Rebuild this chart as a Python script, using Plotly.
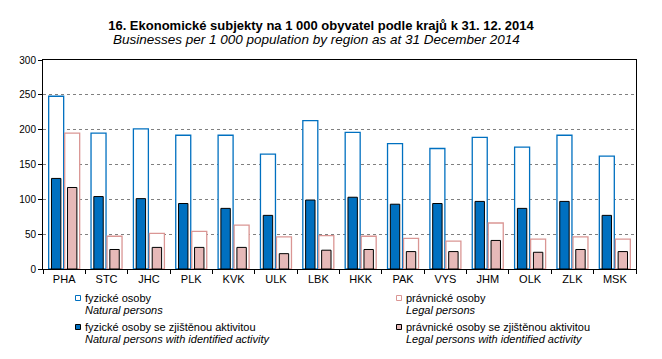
import plotly.graph_objects as go

# ---- data ----
regions = ["PHA", "STC", "JHC", "PLK", "KVK", "ULK", "LBK", "HKK", "PAK", "VYS", "JHM", "OLK", "ZLK", "MSK"]
natural_persons = [248, 195, 201, 192, 192, 165, 213, 196, 180, 173, 189, 175, 192, 162]
legal_persons = [195, 47, 51, 54, 63, 46, 48, 47, 44, 40, 66, 43, 46, 43]
natural_active = [130, 104, 101, 94, 87, 77, 99, 103, 93, 94, 97, 87, 97, 77]
legal_active = [117, 28, 31, 31, 31, 22, 27, 28, 25, 25, 41, 24, 28, 25]

y_ticks = [0, 50, 100, 150, 200, 250, 300]

title_cz = "16. Ekonomické subjekty na 1 000 obyvatel podle krajů k 31. 12. 2014"
title_en = "Businesses per 1 000 population by region as at 31 December 2014"

legend_cz = ["fyzické osoby", "právnické osoby",
             "fyzické osoby se zjištěnou aktivitou", "právnické osoby se zjištěnou aktivitou"]
legend_en = ["Natural persons", "Legal persons",
             "Natural persons with identified activity", "Legal persons with identified activity"]

BLUE = "#0070C0"
PINK_LINE = "#DA9694"
PINK_FILL = "#E6B9B8"
FONT = "Liberation Sans, Arial, sans-serif"

# page has an 8px body margin: work in page pixels, convert to figure pixels
OFF = 8
W, H = 662 - OFF, 359 - OFF
PLOT_X0, PLOT_X1, PLOT_Y0, PLOT_Y1 = 43, 636, 60, 269   # page pixels
L, R = PLOT_X0 - OFF, W - (PLOT_X1 - OFF)
T, B = PLOT_Y0 - OFF, H - (PLOT_Y1 - OFF)
PW, PH = PLOT_X1 - PLOT_X0, PLOT_Y1 - PLOT_Y0


def px_x(px):
    return (px - PLOT_X0) / PW


def px_y(py):
    return (PLOT_Y1 - py) / PH


fig = go.Figure()

wide, narrow, off = 0.354, 0.222, 0.189

fig.add_trace(go.Bar(x=regions, y=natural_persons, name=legend_cz[0],
                     offset=-off - wide / 2, width=wide,
                     marker=dict(color="white", line=dict(color=BLUE, width=1.3)),
                     showlegend=False))
fig.add_trace(go.Bar(x=regions, y=legal_persons, name=legend_cz[1],
                     offset=off - wide / 2, width=wide,
                     marker=dict(color="white", line=dict(color=PINK_LINE, width=1.3)),
                     showlegend=False))
fig.add_trace(go.Bar(x=regions, y=natural_active, name=legend_cz[2],
                     offset=-off - narrow / 2, width=narrow,
                     marker=dict(color=BLUE, line=dict(color="black", width=1)),
                     showlegend=False))
fig.add_trace(go.Bar(x=regions, y=legal_active, name=legend_cz[3],
                     offset=off - narrow / 2, width=narrow,
                     marker=dict(color=PINK_FILL, line=dict(color="black", width=1)),
                     showlegend=False))

# ---- subtitle ----
annotations = [dict(xref="paper", yref="paper", x=px_x(316), y=px_y(39.5),
                    xanchor="center", yanchor="middle", showarrow=False,
                    text="<i>" + title_en + "</i>",
                    font=dict(family=FONT, size=13.5, color="black"))]

# ---- manual legend (2 x 2) ----
legend_pos = [(78, 298), (399, 298), (78, 327), (399, 327)]
sym_fill = ["white", "white", BLUE, PINK_FILL]
sym_line = [BLUE, PINK_LINE, "black", "black"]
shapes = []
for i, (cx, cy) in enumerate(legend_pos):
    shapes.append(dict(type="rect", xref="paper", yref="paper",
                       x0=px_x(cx - 2.5), x1=px_x(cx + 2.5),
                       y0=px_y(cy + 2.5), y1=px_y(cy - 2.5),
                       fillcolor=sym_fill[i], line=dict(color=sym_line[i], width=1)))
    annotations.append(dict(xref="paper", yref="paper", x=px_x(cx + 5), y=px_y(cy),
                            xanchor="left", yanchor="middle", showarrow=False,
                            text=legend_cz[i], font=dict(family=FONT, size=11, color="black")))
    annotations.append(dict(xref="paper", yref="paper", x=px_x(cx + 5), y=px_y(cy + 11.5),
                            xanchor="left", yanchor="middle", showarrow=False,
                            text="<i>" + legend_en[i] + "</i>",
                            font=dict(family=FONT, size=11, color="black")))

fig.update_layout(
    width=W, height=H,
    margin=dict(l=L, r=R, t=T, b=B),
    paper_bgcolor="white", plot_bgcolor="white",
    barmode="overlay",
    showlegend=False,
    title=dict(
        text="<b>" + title_cz + "</b>",
        x=(321 - OFF) / W, xanchor="center", y=1 - (25 - OFF) / H, yanchor="middle",
        font=dict(family=FONT, size=13, color="black")),
    font=dict(family=FONT, size=10, color="black"),
    annotations=annotations,
    shapes=shapes,
)

fig.update_xaxes(type="category", showline=True, linecolor="black", linewidth=1, mirror=True,
                 ticks="outside", tickson="boundaries", ticklen=4, tickcolor="black",
                 showgrid=False, tickfont=dict(family=FONT, size=11, color="black"))
fig.update_yaxes(range=[0, 300], tickvals=y_ticks, showline=True, linecolor="black", linewidth=1,
                 mirror=True, ticks="outside", ticklen=4, tickcolor="black",
                 showgrid=True, gridcolor="#808080", griddash="dot", gridwidth=1,
                 zeroline=False, tickfont=dict(family=FONT, size=10, color="black"))

fig.write_html("out.html")
